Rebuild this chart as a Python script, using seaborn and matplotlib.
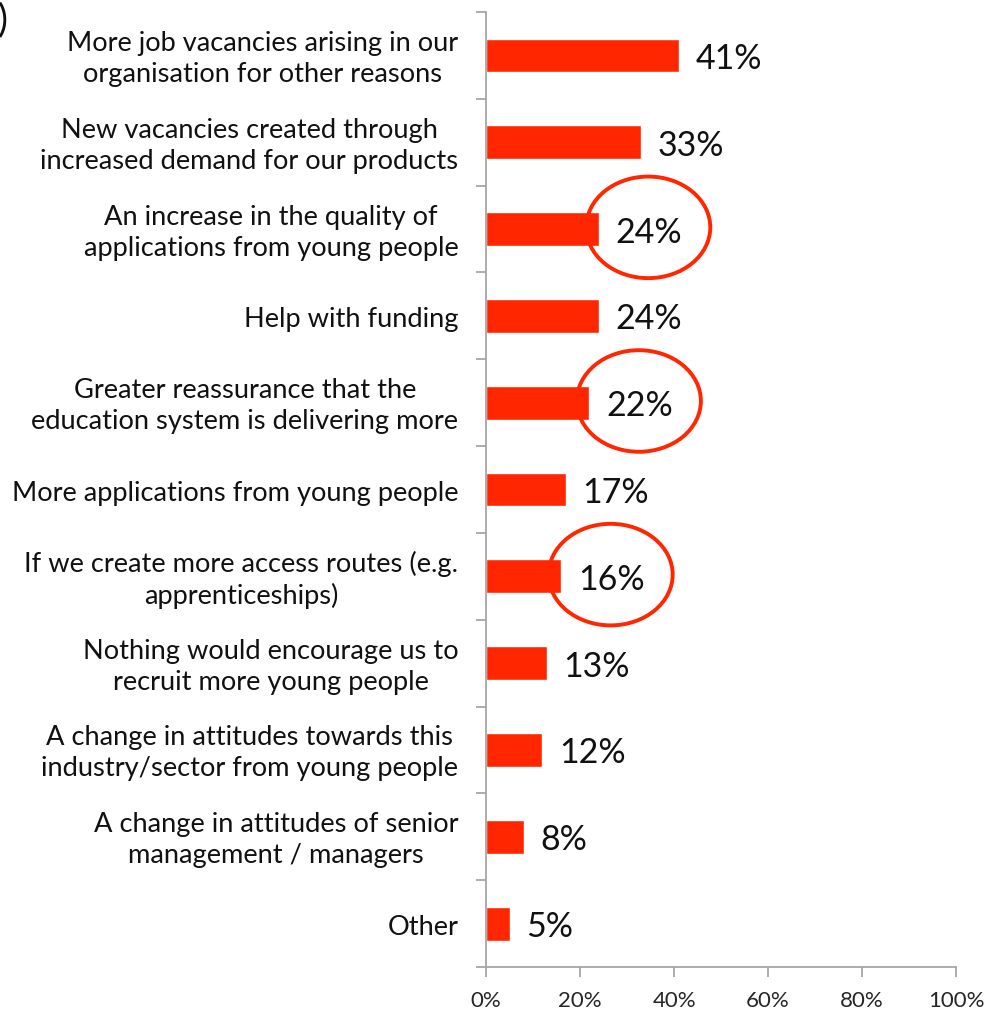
import matplotlib
matplotlib.use("Agg")
import matplotlib.pyplot as plt
from matplotlib.patches import Ellipse
from matplotlib.ticker import FixedLocator, PercentFormatter
import seaborn as sns
import pandas as pd

# Survey responses: what would encourage recruiting more young people
categories = [
    "More job vacancies arising in our\norganisation for other reasons",
    "New vacancies created through\nincreased demand for our products",
    "An increase in the quality of\napplications from young people",
    "Help with funding",
    "Greater reassurance that the\neducation system is delivering more",
    "More applications from young people",
    "If we create more access routes (e.g.\napprenticeships)",
    "Nothing would encourage us to\nrecruit more young people",
    "A change in attitudes towards this\nindustry/sector from young people",
    "A change in attitudes of senior\nmanagement / managers",
    "Other",
]
values = [41, 33, 24, 24, 22, 17, 16, 13, 12, 8, 5]
# Responses whose value labels are ringed
highlighted = [
    "An increase in the quality of\napplications from young people",
    "Greater reassurance that the\neducation system is delivering more",
    "If we create more access routes (e.g.\napprenticeships)",
]
x_ticks = [0, 20, 40, 60, 80, 100]

RED = "#FF2600"
GREY = "#A6A6A6"

sns.set_theme(style="white")
plt.rcParams["font.family"] = ["Lato", "DejaVu Sans"]

df = pd.DataFrame({"reason": categories, "pct": values})

fig = plt.figure(figsize=(9.88, 10.13), dpi=100)
ax = fig.add_axes([0.492, 0.0454, 0.4757, 0.9427])

sns.barplot(data=df, y="reason", x="pct", orient="h", color=RED,
            saturation=1, width=0.39, ax=ax)

ax.set_xlim(0, 100)
ax.set_ylim(len(categories) - 0.5, -0.5)
ax.set_xlabel("")
ax.set_ylabel("")

# Axis styling: only left and bottom spines in grey
for side in ("top", "right"):
    ax.spines[side].set_visible(False)
for side in ("left", "bottom"):
    ax.spines[side].set_color(GREY)
    ax.spines[side].set_linewidth(1.3)

ax.xaxis.set_major_locator(FixedLocator(x_ticks))
ax.xaxis.set_major_formatter(PercentFormatter(decimals=0))
ax.tick_params(axis="x", direction="out", length=7, width=1.3, color=GREY,
               labelsize=16, pad=10, bottom=True)

# Category labels centred on bars, tick marks between categories
ax.set_yticks(range(len(categories)))
ax.set_yticklabels([])
ax.tick_params(axis="y", which="major", length=0)
ax.set_yticks([i - 0.5 for i in range(len(categories) + 1)], minor=True)
ax.tick_params(axis="y", which="minor", direction="out", length=7,
               width=1.3, color=GREY, left=True)

for i, label in enumerate(categories):
    ax.annotate(label, xy=(0, i), xycoords=("axes fraction", "data"),
                xytext=(-20, -2.5), textcoords="offset points",
                ha="right", va="center", multialignment="center",
                fontsize=19.6, color="#111111", linespacing=1.3)

# Value labels and highlight rings
label_gap = 3.5
for i, (cat, v) in enumerate(zip(categories, values)):
    ax.text(v + label_gap, i + 0.04, f"{v}%", ha="left", va="center",
            fontsize=24.5, color="#111111")
    if cat in highlighted:
        ax.add_patch(Ellipse((v + 10.5, i - 0.02), width=26.4, height=1.17,
                             fill=False, edgecolor=RED, linewidth=2.8,
                             zorder=5, clip_on=False))

fig.text(-0.002, 0.998, ")", ha="left", va="top", fontsize=27, color="#111111")

fig.savefig("out.png", dpi=100)
